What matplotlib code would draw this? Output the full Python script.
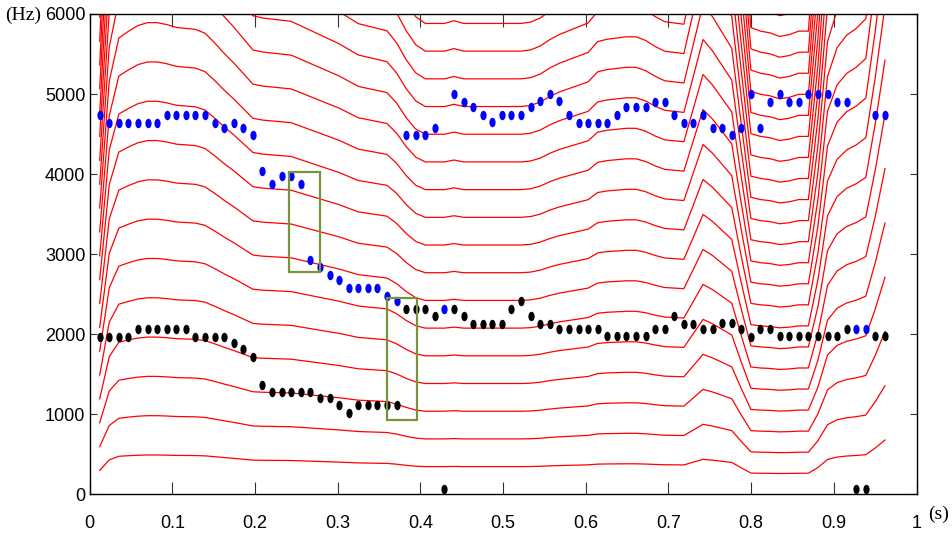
import numpy as np
import matplotlib
matplotlib.use("Agg")
import matplotlib.pyplot as plt
from matplotlib.path import Path
from matplotlib.patches import Rectangle

# ---------------- data ----------------
frame_start = 0.0122   # s, first analysis frame
frame_step = 0.01158   # s, hop between frames

# fundamental frequency per frame (Hz); red curves are its harmonics
f0 = [298, 430, 475, 482, 488, 491, 491, 489, 486, 485,
      484, 480, 470, 459, 449, 438, 427, 425, 424, 423,
      422, 418, 414, 410, 406, 402, 397, 392, 390, 388,
      386, 376, 362, 351, 346, 346, 346, 348, 346, 346,
      346, 346, 346, 346, 346, 347, 350, 355, 359, 362,
      365, 368, 377, 379, 380, 381, 381, 378, 373, 369,
      368, 367, 402, 437, 426, 412, 398, 330, 265, 263,
      262, 260, 261, 263, 263, 335, 435, 465, 478, 485,
      495, 580, 678]

# black points (Hz) per frame
black_pts = [1967, 1967, 1967, 1967, 2067, 2067, 2067, 2067, 2067, 2067,
             1967, 1967, 1967, 1967, 1884, 1809, 1713, 1368, 1272, 1272,
             1272, 1272, 1272, 1206, 1206, 1114, 1019, 1114, 1114, 1114,
             1114, 1114, 2320, 2320, 2320, 2233, 62, 2320, 2233, 2133,
             2133, 2133, 2133, 2320, 2411, 2233, 2133, 2133, 2067, 2067,
             2067, 2067, 2067, 1975, 1975, 1975, 1975, 1975, 2067, 2067,
             2233, 2133, 2133, 2067, 2067, 2142, 2142, 2067, 1970, 2067,
             2067, 1975, 1975, 1975, 1975, 1975, 1975, 1975, 2067, 62,
             62, 1975, 1975]

# blue points (Hz) per frame
blue_pts = [4740, 4644, 4644, 4644, 4644, 4644, 4644, 4740, 4740, 4740,
            4740, 4740, 4644, 4582, 4644, 4582, 4486, 4042, 3880, 3979,
            3979, 3880, 2931, 2840, 2744, 2673, 2578, 2578, 2578, 2578,
            2482, 2411, 4490, 4490, 4490, 4582, 2320, 4998, 4906, 4836,
            4740, 4649, 4740, 4740, 4740, 4836, 4915, 4998, 4915, 4740,
            4644, 4644, 4644, 4644, 4740, 4836, 4836, 4836, 4906, 4906,
            4740, 4644, 4644, 4740, 4582, 4582, 4486, 4582, 4998, 4582,
            4906, 4998, 4906, 4906, 4998, 4998, 4998, 4906, 4906, 2067,
            2067, 4740, 4740]

n_harmonics = 25

# highlighted regions: (t_start, t_end, f_low, f_high)
box_t0 = [0.2409, 0.3602]
box_t1 = [0.2790, 0.3964]
box_f0 = [2773, 923]
box_f1 = [4025, 2454]

x_ticks = [0, 0.1, 0.2, 0.3, 0.4, 0.5, 0.6, 0.7, 0.8, 0.9, 1]
x_tick_labels = ["0", "0.1", "0.2", "0.3", "0.4", "0.5", "0.6", "0.7", "0.8", "0.9", "1"]
y_ticks = [0, 1000, 2000, 3000, 4000, 5000, 6000]
y_tick_labels = ["0", "1000", "2000", "3000", "4000", "5000", "6000"]

# ---------------- plot ----------------
W, H = 953, 534
fig = plt.figure(figsize=(W / 100, H / 100), dpi=100)
L, R, T, B = 89.6, 916.6, 14.0, 494.3
ax = fig.add_axes([L / W, 1 - B / H, (R - L) / W, (B - T) / H])

t = frame_start + frame_step * np.arange(len(f0))
f0a = np.array(f0, dtype=float)
for k in range(1, n_harmonics + 1):
    ax.plot(t, k * f0a, color="#ff0000", lw=0.9, zorder=2)

circ = Path.unit_circle()
ell = Path(circ.vertices * np.array([0.66, 1.0]), circ.codes)
ax.plot(t, black_pts, ls="none", marker=ell, ms=6.8, mfc="black", mec="black", mew=0, zorder=4)
ax.plot(t, blue_pts, ls="none", marker=ell, ms=6.8, mfc="#0000ff", mec="#0000ff", mew=0, zorder=4)

for a, b, c, d in zip(box_t0, box_t1, box_f0, box_f1):
    ax.add_patch(Rectangle((a, c), b - a, d - c, fill=False, ec="#77933c", lw=1.6, zorder=5))

ax.set_xlim(0, 1)
ax.set_ylim(0, 6000)
ax.set_xticks(x_ticks)
ax.set_xticklabels(x_tick_labels)
ax.set_yticks(y_ticks)
ax.set_yticklabels(y_tick_labels)
ax.tick_params(axis="x", direction="in", top=True, length=9, width=0.8, color="#333333", pad=15)
ax.tick_params(axis="y", direction="in", right=True, length=5, width=0.8, color="#333333", pad=3)
for lab in ax.get_xticklabels() + ax.get_yticklabels():
    lab.set_family(["Liberation Sans Narrow", "Liberation Sans", "DejaVu Sans"])
    lab.set_fontsize(13)
for s in ax.spines.values():
    s.set_linewidth(1.0)

fig.text(5 / W, 1 - 15 / H, "(Hz)", family=["Liberation Serif", "DejaVu Serif"], fontsize=14,
         ha="left", va="center")
fig.text(928 / W, 1 - 514 / H, "(s)", family=["Liberation Serif", "DejaVu Serif"], fontsize=14,
         ha="left", va="center")

fig.savefig("out.png", dpi=100)
